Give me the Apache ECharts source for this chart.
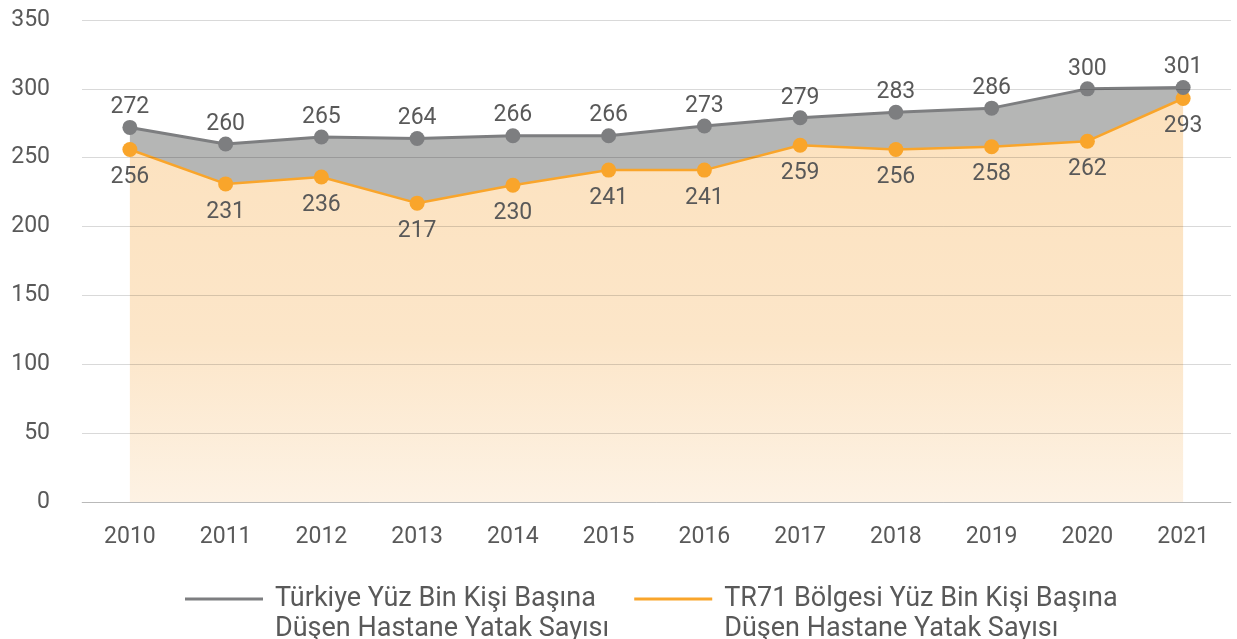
<!DOCTYPE html>
<html>
<head>
<meta charset="utf-8">
<script src="https://cdn.jsdelivr.net/npm/echarts@6/dist/echarts.min.js"></script>
<style>
  html, body { margin: 0; padding: 0; background: #fff; }
  #chart { width: 1237px; height: 639px; }
</style>
</head>
<body>
<div id="chart"></div>
<script>
// Hospital beds per 100,000 people, 2010-2021
const years = ['2010', '2011', '2012', '2013', '2014', '2015', '2016', '2017', '2018', '2019', '2020', '2021'];
const turkiye = [272, 260, 265, 264, 266, 266, 273, 279, 283, 286, 300, 301];
const tr71 = [256, 231, 236, 217, 230, 241, 241, 259, 256, 258, 262, 293];
const yTicks = [0, 50, 100, 150, 200, 250, 300, 350];

const nameTurkiye = 'Türkiye Yüz Bin Kişi Başına\nDüşen Hastane Yatak Sayısı';
const nameTr71 = 'TR71 Bölgesi Yüz Bin Kişi Başına\nDüşen Hastane Yatak Sayısı';

// Gray band sits on top of the TR71 area: stacked gap between the two series
const gap = turkiye.map((v, i) => v - tr71[i]);

const FONT = 'Roboto';
const TEXT = '#595959';
const GRAY = '#7d7e80';
const ORANGE = '#f9a52b';

const chart = echarts.init(document.getElementById('chart'));
chart.setOption({
  animation: false,
  textStyle: { fontFamily: FONT },
  grid: { left: 82, right: 6, top: 20, bottom: 137, containLabel: false },
  xAxis: {
    type: 'category',
    data: years,
    boundaryGap: true,
    z: 3,
    axisLine: { lineStyle: { color: 'rgba(0,0,0,0.15)' } },
    axisTick: { show: false },
    axisLabel: { color: TEXT, fontSize: 23, margin: 24, fontFamily: FONT }
  },
  yAxis: {
    type: 'value',
    min: yTicks[0],
    max: yTicks[yTicks.length - 1],
    interval: 50,
    z: 3,
    axisLine: { show: false },
    axisTick: { show: false },
    axisLabel: { color: TEXT, fontSize: 23, margin: 32, fontFamily: FONT },
    splitLine: { lineStyle: { color: 'rgba(0,0,0,0.15)', width: 1 } }
  },
  legend: {
    left: 185,
    top: 554,
    padding: 0,
    itemWidth: 78,
    itemHeight: 3,
    itemGap: 25,
    icon: 'rect',
    data: [nameTurkiye, nameTr71],
    // leading blank line keeps the icon level with the first text line
    formatter: n => ' \n' + n,
    textStyle: {
      color: TEXT,
      fontSize: 27,
      fontFamily: FONT,
      lineHeight: 30,
      padding: [0, 0, 0, 7]
    }
  },
  series: [
    {
      name: nameTr71,
      type: 'line',
      stack: 'beds',
      data: tr71,
      z: 2,
      color: ORANGE,
      symbol: 'circle',
      symbolSize: 15,
      lineStyle: { color: ORANGE, width: 2.5 },
      itemStyle: { color: ORANGE },
      areaStyle: {
        opacity: 1,
        color: new echarts.graphic.LinearGradient(0, 0, 0, 1, [
          { offset: 0, color: '#fce1bd' },
          { offset: 0.6, color: '#fce6c9' },
          { offset: 1, color: '#fdf2e4' }
        ])
      },
      label: {
        show: true,
        position: 'bottom',
        distance: 9,
        color: TEXT,
        fontSize: 23,
        fontFamily: FONT
      }
    },
    {
      name: nameTurkiye,
      type: 'line',
      stack: 'beds',
      data: gap,
      z: 2,
      color: GRAY,
      symbol: 'circle',
      symbolSize: 15,
      lineStyle: { color: GRAY, width: 3 },
      itemStyle: { color: GRAY },
      areaStyle: { color: '#b5b6b5', opacity: 1 },
      label: {
        show: true,
        position: 'top',
        distance: 1,
        color: TEXT,
        fontSize: 23,
        fontFamily: FONT,
        formatter: p => String(turkiye[p.dataIndex])
      }
    }
  ]
});
</script>
</body>
</html>
